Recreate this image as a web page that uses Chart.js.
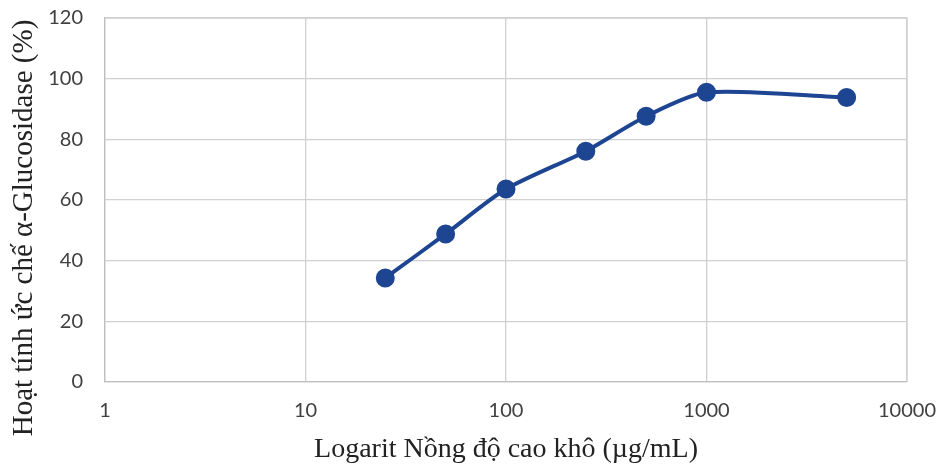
<!DOCTYPE html>
<html>
<head>
<meta charset="utf-8">
<script src="https://cdn.jsdelivr.net/npm/chart.js@4"></script>
<style>
html,body{margin:0;padding:0;background:#fff;}
#wrap{width:940px;height:466px;position:relative;}
</style>
</head>
<body>
<div id="wrap"><canvas id="c" width="940" height="466"></canvas></div>
<script>
const concentrations = [25, 50, 100, 250, 500, 1000, 5000];
const inhibition = [34.3, 48.8, 63.6, 76.1, 87.6, 95.5, 93.8];
const xTicks = [1, 10, 100, 1000, 10000];
const yTicks = [0, 20, 40, 60, 80, 100, 120];
const xTitle = 'Logarit Nồng độ cao khô (µg/mL)';
const yTitle = 'Hoạt tính ức chế α-Glucosidase (%)';

const lineColor = '#1d4591';
const gridColor = '#d0d0d0';

new Chart(document.getElementById('c'), {
  type: 'line',
  data: {
    datasets: [{
      data: concentrations.map((x, i) => ({x: x, y: inhibition[i]})),
      borderColor: lineColor,
      backgroundColor: lineColor,
      borderWidth: 4,
      pointRadius: 7.5,
      pointHoverRadius: 7.5,
      pointBackgroundColor: lineColor,
      pointBorderColor: lineColor,
      tension: 0.25,
      fill: false
    }]
  },
  options: {
    responsive: false,
    animation: false,
    devicePixelRatio: 1,
    layout: {autoPadding: false, padding: {left: 0, right: 33, top: 18, bottom: 0}},
    plugins: {legend: {display: false}, tooltip: {enabled: false}},
    scales: {
      x: {
        type: 'logarithmic',
        min: 1, max: 10000,
        afterBuildTicks: (axis) => { axis.ticks = xTicks.map(v => ({value: v})); },
        afterFit: (s) => { s.height = 84; s.paddingLeft = 0; s.paddingRight = 0; },
        ticks: {
          callback: (v) => String(v),
          color: '#404040',
          font: {family: 'Lato', size: 20},
          padding: 17,
          maxRotation: 0
        },
        grid: {color: gridColor, lineWidth: 1.3, drawTicks: false},
        border: {color: '#bfbfbf', width: 1.3},
        title: {
          display: true, text: xTitle, color: '#222',
          font: {family: 'Liberation Serif', size: 28},
          padding: {top: 5, bottom: 0}
        }
      },
      y: {
        min: 0, max: 120,
        afterBuildTicks: (axis) => { axis.ticks = yTicks.map(v => ({value: v})); },
        afterFit: (s) => { s.width = 105; s.paddingTop = 0; s.paddingBottom = 0; },
        ticks: {
          color: '#404040',
          font: {family: 'Lato', size: 20},
          padding: 22
        },
        grid: {color: gridColor, lineWidth: 1.3, drawTicks: false},
        border: {color: '#bfbfbf', width: 1.3},
        title: {display: false}
      }
    }
  },
  plugins: [{
    id: 'frameAndYTitle',
    afterDraw(chart) {
      const {ctx, chartArea: a} = chart;
      ctx.save();
      ctx.strokeStyle = gridColor;
      ctx.lineWidth = 1.3;
      ctx.beginPath();
      ctx.moveTo(a.left, a.top); ctx.lineTo(a.right, a.top); ctx.lineTo(a.right, a.bottom);
      ctx.stroke();
      ctx.translate(24, 228);
      ctx.rotate(-Math.PI / 2);
      ctx.fillStyle = '#222';
      ctx.font = '29px "Liberation Serif"';
      ctx.textAlign = 'center';
      ctx.textBaseline = 'middle';
      ctx.fillText(yTitle, 0, 0);
      ctx.restore();
    }
  }]
});
</script>
</body>
</html>
